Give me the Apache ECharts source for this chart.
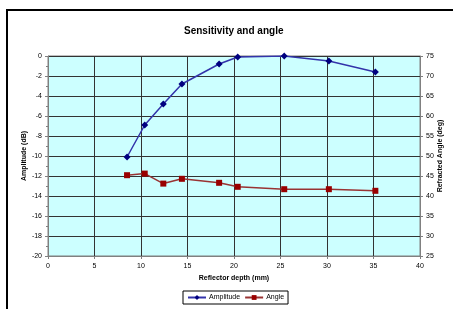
<!DOCTYPE html>
<html><head><meta charset="utf-8">
<script src="https://cdn.jsdelivr.net/npm/echarts@6/dist/echarts.min.js"></script>
<style>html,body{margin:0;padding:0;background:#fff;overflow:hidden}#c{width:453px;height:309px;overflow:hidden}</style>
</head><body><div id="c"></div>
<script>
const depth = [8.5, 10.4, 12.4, 14.4, 18.4, 20.4, 25.4, 30.2, 35.2];
const amplitude = [-10.1, -6.9, -4.8, -2.8, -0.8, -0.1, 0, -0.5, -1.6];
const angle = [45.2, 45.6, 43.1, 44.3, 43.3, 42.3, 41.7, 41.7, 41.3];
const xTicks = [0, 5, 10, 15, 20, 25, 30, 35, 40];
const leftTicks = [0, -2, -4, -6, -8, -10, -12, -14, -16, -18, -20];
const rightTicks = [75, 70, 65, 60, 55, 50, 45, 40, 35, 30, 25];

const F = 'Liberation Sans, Arial, sans-serif';
const chart = echarts.init(document.getElementById('c'), null, {renderer: 'canvas', width: 453, height: 309});
const lbl = {fontFamily: F, fontSize: 7, color: '#000'};
chart.setOption({
  animation: false,
  title: {text: 'Sensitivity and angle', left: 179, top: 21,
    textStyle: {fontFamily: F, fontSize: 10, fontWeight: 'bold', color: '#000'}},
  graphic: [{type: 'rect', shape: {x: 7, y: 10, width: 470, height: 320},
    style: {fill: null, stroke: '#000', lineWidth: 2}, z: 100}],
  grid: {left: 48, right: 33, top: 56, bottom: 53, show: true, containLabel: false, outerBoundsMode: 'none',
    backgroundColor: '#CCFFFF', borderColor: '#808080', borderWidth: 1},
  legend: {bottom: 5, left: 183, itemWidth: 18, itemHeight: 6, itemGap: 4,
    borderColor: '#000', borderWidth: 1, padding: [3, 4],
    textStyle: {fontFamily: F, fontSize: 7, color: '#000', padding: [0, 0, 0, -2]},
    data: ['Amplitude', 'Angle']},
  xAxis: {type: 'value', min: xTicks[0], max: xTicks[xTicks.length - 1], interval: 5,
    name: 'Reflector depth (mm)', nameLocation: 'middle', nameGap: 19, nameMoveOverlap: false,
    nameTextStyle: {fontFamily: F, fontSize: 7, fontWeight: 'bold', color: '#000'},
    axisLine: {onZero: false, lineStyle: {color: '#808080'}},
    axisTick: {lineStyle: {color: '#808080'}, length: 3},
    axisLabel: Object.assign({margin: 7}, lbl),
    splitLine: {show: true, lineStyle: {color: '#333', width: 1}}},
  yAxis: [{type: 'value', min: leftTicks[leftTicks.length - 1], max: leftTicks[0], interval: 2,
    name: 'Amplitude (dB)', nameLocation: 'middle', nameGap: 20, nameMoveOverlap: false,
    nameTextStyle: {fontFamily: F, fontSize: 7, fontWeight: 'bold', color: '#000'},
    axisLine: {show: true, lineStyle: {color: '#808080'}},
    axisTick: {show: true, lineStyle: {color: '#808080'}, length: 3},
    minorTick: {show: true, splitNumber: 2, length: 2, lineStyle: {color: '#808080'}},
    axisLabel: Object.assign({margin: 6}, lbl),
    splitLine: {show: true, lineStyle: {color: '#333', width: 1}}},
   {type: 'value', min: rightTicks[rightTicks.length - 1], max: rightTicks[0], interval: 5, position: 'right',
    name: 'Refracted Angle (deg)', nameLocation: 'middle', nameGap: 17, nameRotate: 90, nameMoveOverlap: false,
    nameTextStyle: {fontFamily: F, fontSize: 7, fontWeight: 'bold', color: '#000'},
    axisLine: {show: true, lineStyle: {color: '#808080'}},
    axisTick: {show: true, lineStyle: {color: '#808080'}, length: 3},
    axisLabel: Object.assign({margin: 6}, lbl),
    splitLine: {show: false}}],
  series: [
    {name: 'Amplitude', type: 'line', yAxisIndex: 0, data: depth.map((d, i) => [d, amplitude[i]]),
     symbol: 'diamond', symbolSize: 7, color: '#000080',
     lineStyle: {color: '#3333AA', width: 1.5}, itemStyle: {color: '#000080'}},
    {name: 'Angle', type: 'line', yAxisIndex: 1, data: depth.map((d, i) => [d, angle[i]]),
     symbol: 'rect', symbolSize: 6, color: '#990000',
     lineStyle: {color: '#993333', width: 1.5}, itemStyle: {color: '#990000'}}
  ]
});
</script></body></html>
